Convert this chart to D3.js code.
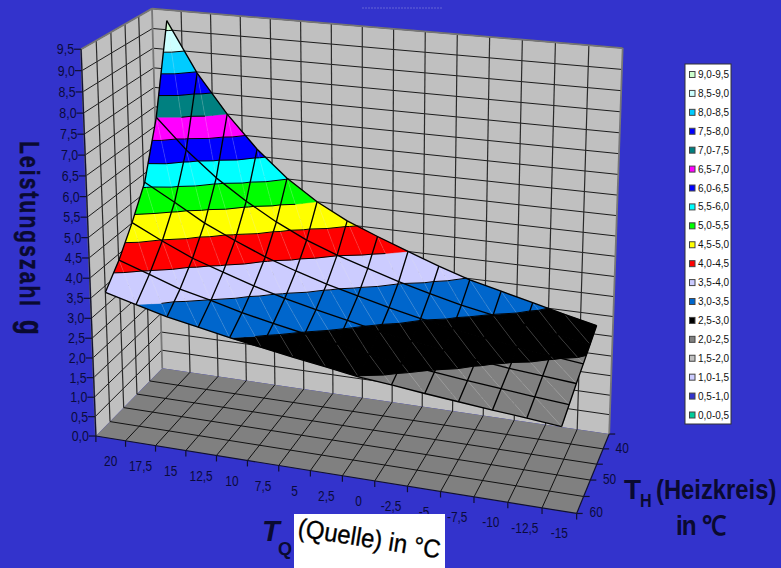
<!DOCTYPE html>
<html>
<head>
<meta charset="utf-8">
<script src="https://cdn.jsdelivr.net/npm/d3@7"></script>
<style>
html,body{margin:0;padding:0;background:#3333cc;overflow:hidden}
svg{display:block}
text{font-family:"Liberation Sans",Arial,sans-serif}
</style>
</head>
<body>
<svg id="chart" width="781" height="568"></svg>
<script>
// Source temperature categories, labelled along the front edge
const tqCategories = ["20","17,5","15","12,5","10","7,5","5","2,5","0","-2,5","-5","-7,5","-10","-12,5","-15"];
// Heating-circuit temperature rows of the surface and the three labelled ones
const thRows = [40,44,48,52,56,60];
const thLabels = ["40","50","60"];
// Performance factor per heating temperature, one value per source temperature
const g40 = [9.23,7.97,7.00,6.18,5.52,5.00,4.60,4.29,4.00,3.72,3.47,3.28,3.09,2.90,2.72];
const g44 = [7.00,6.25,5.62,5.11,4.67,4.30,4.01,3.77,3.53,3.33,3.14,2.99,2.85,2.72,2.58];
const g48 = [5.60,5.18,4.74,4.39,4.07,3.81,3.58,3.38,3.19,3.02,2.88,2.75,2.63,2.53,2.44];
const g52 = [4.85,4.48,4.14,3.89,3.64,3.43,3.25,3.09,2.92,2.79,2.67,2.55,2.45,2.38,2.31];
const g56 = [4.20,3.94,3.67,3.49,3.29,3.13,2.98,2.84,2.69,2.58,2.48,2.39,2.31,2.23,2.16];
const g60 = [3.70,3.50,3.30,3.15,3.00,2.87,2.74,2.62,2.49,2.41,2.32,2.24,2.16,2.09,2.01];
const surfaceRows = [g40,g44,g48,g52,g56,g60];
// Value bands, lowest first, with legend labels and colours
const bandLabels = ["0,0-0,5","0,5-1,0","1,0-1,5","1,5-2,0","2,0-2,5","2,5-3,0","3,0-3,5","3,5-4,0","4,0-4,5","4,5-5,0","5,0-5,5","5,5-6,0","6,0-6,5","6,5-7,0","7,0-7,5","7,5-8,0","8,0-8,5","8,5-9,0","9,0-9,5"];
const bandColors = ["#00cc99","#3333cc","#ccccff","#c0c0c0","#808080","#000000","#0066cc","#ccccff","#ff0000","#ffff00","#00ff00","#00ffff","#0000ff","#ff00ff","#008080","#0000ff","#00ccff","#ccffff","#ccffcc"];
const zTicks = d3.range(0,20).map(d=>d*0.5);

const svg = d3.select("#chart");
const fmt = d=>d.toFixed(1).replace(".",",");

// Scales from data into the unit box of the plot
const uBand = d3.scaleBand().domain(tqCategories).range([0,1]);
const uCenter = c=>uBand(c)+uBand.bandwidth()/2;
const vPoint = d3.scalePoint().domain(thRows).range([1,0]);
const wScale = d3.scaleLinear().domain([0,9.5]).range([0,1]);

// Camera: fit a perspective matrix to where the box sits on the page
const anchors = [
 [0,0,0,96,436],[1,0,0,577,514],[1,1,0,609,434],[0,1,0,162,368],
 [0,0,1,81,49],[0,1,1,152,9],[1,1,1,623,48],
 [8/15,0,0,343,476],[1,0.4,0,590.7,480],[0,0,4.5/9.5,89,258],
 [1,0,2/9.5,578,429]
];
function fitCamera(pts){
  const A=[],b=[];
  pts.forEach(([x,y,z,px,py])=>{
    A.push([x,y,z,1,0,0,0,0,-px*x,-px*y,-px*z]); b.push(px);
    A.push([0,0,0,0,x,y,z,1,-py*x,-py*y,-py*z]); b.push(py);
  });
  const n=11, M=d3.range(n).map(r=>d3.range(n+1).map(c=>
    c<n ? d3.sum(A,row=>row[r]*row[c]) : d3.sum(A,(row,k)=>row[r]*b[k])));
  for(let c=0;c<n;c++){
    let p=c; for(let r=c+1;r<n;r++) if(Math.abs(M[r][c])>Math.abs(M[p][c])) p=r;
    [M[c],M[p]]=[M[p],M[c]];
    for(let r=0;r<n;r++){ if(r===c) continue;
      const f=M[r][c]/M[c][c];
      for(let k=c;k<=n;k++) M[r][k]-=f*M[c][k];
    }
  }
  return M.map((row,i)=>row[n]/row[i]);
}
const cam = fitCamera(anchors);
function project(u,v,w){
  const d=cam[8]*u+cam[9]*v+cam[10]*w+1;
  return [(cam[0]*u+cam[1]*v+cam[2]*w+cam[3])/d,(cam[4]*u+cam[5]*v+cam[6]*w+cam[7])/d];
}
const line3d = pts=>"M"+pts.map(p=>project(...p).map(n=>n.toFixed(2)).join(",")).join("L");
const poly3d = pts=>line3d(pts)+"Z";

// Walls and floor
const uTicks = d3.range(0,16).map(i=>i/15);
const vTicks = d3.range(0,6).map(i=>i/5);
const walls = svg.append("g");
walls.selectAll("path.face").data([
  {d:[[0,0,0],[0,1,0],[0,1,1],[0,0,1]],f:"#c0c0c0"},
  {d:[[0,1,0],[1,1,0],[1,1,1],[0,1,1]],f:"#c0c0c0"},
  {d:[[0,0,0],[1,0,0],[1,1,0],[0,1,0]],f:"#808080"}
]).join("path").attr("class","face").attr("d",d=>poly3d(d.d)).attr("fill",d=>d.f);

const wallLines = [];
zTicks.slice(1).forEach(z=>{
  const w=wScale(z);
  wallLines.push({p:[[0,0,w],[0,1,w]],c:"#1c1c1c",s:1});
  wallLines.push({p:[[0,1,w],[1,1,w]],c:"#1c1c1c",s:1});
});
uTicks.slice(1,-1).forEach(u=>wallLines.push({p:[[u,1,0],[u,1,1]],c:"#2a2a2a",s:1.2}));
vTicks.slice(1,-1).forEach(v=>wallLines.push({p:[[0,v,0],[0,v,1]],c:"#2a2a2a",s:1.2}));
uTicks.slice(1,-1).forEach(u=>wallLines.push({p:[[u,0,0],[u,1,0]],c:"#111",s:1}));
vTicks.slice(1,-1).forEach(v=>wallLines.push({p:[[0,v,0],[1,v,0]],c:"#111",s:1}));
[[[0,1,0],[0,1,1]],[[1,1,0],[1,1,1]],[[0,1,1],[1,1,1]],[[0,0,1],[0,1,1]],[[0,0,0],[0,0,1]]]
  .forEach(p=>wallLines.push({p,c:"#777",s:1.8}));
walls.selectAll("path.rule").data(wallLines).join("path").attr("class","rule")
  .attr("d",d=>line3d(d.p)).attr("fill","none").attr("stroke",d=>d.c).attr("stroke-width",d=>d.s);

// Surface vertices in unit box coordinates
const vertex = (i,j)=>({u:uCenter(tqCategories[i]),v:vPoint(thRows[j]),z:surfaceRows[j][i]});
const lerp=(a,b,z)=>{const t=(z-a.z)/(b.z-a.z);return {u:a.u+t*(b.u-a.u),v:a.v+t*(b.v-a.v),z};};
function clipAbove(poly,z,keepAbove){
  const out=[];
  poly.forEach((p,k)=>{
    const q=poly[(k+1)%poly.length];
    const pin=keepAbove?p.z>=z:p.z<=z, qin=keepAbove?q.z>=z:q.z<=z;
    if(pin) out.push(p);
    if(pin!==qin) out.push(lerp(p,q,z));
  });
  return out;
}
const toBox = p=>[p.u,p.v,wScale(p.z)];
const cells=[], seams=[], levels=[];
for(let j=0;j<thRows.length-1;j++){
  for(let i=0;i<tqCategories.length-1;i++){
    const a=vertex(i,j),b=vertex(i+1,j),c=vertex(i+1,j+1),d=vertex(i,j+1);
    [[a,b,c],[a,c,d]].forEach(tri=>{
      bandColors.forEach((col,k)=>{
        let poly=clipAbove(tri,k*0.5,true);
        if(poly.length) poly=clipAbove(poly,(k+1)*0.5,false);
        if(poly.length>2) cells.push({d:poly3d(poly.map(toBox)),col});
      });
      d3.range(1,19).forEach(k=>{
        const poly=clipAbove(tri,k*0.5,true);
        const on=poly.filter(p=>p.z===k*0.5);
        if(on.length===2) levels.push(line3d(on.map(toBox)));
      });
    });
    seams.push(line3d([a,c].map(toBox)));
  }
}
const surf=svg.append("g");
surf.selectAll("path.band").data(cells).join("path").attr("class","band")
  .attr("d",d=>d.d).attr("fill",d=>d.col).attr("stroke",d=>d.col).attr("stroke-width",0.35);
surf.selectAll("path.seam").data(seams).join("path").attr("class","seam")
  .attr("d",d=>d).attr("fill","none").attr("stroke","#fff").attr("stroke-opacity",0.28).attr("stroke-width",0.6);
surf.selectAll("path.level").data(levels).join("path").attr("class","level")
  .attr("d",d=>d).attr("fill","none").attr("stroke","#000").attr("stroke-width",1);
// Mesh lines along both directions
const meshRows = thRows.map((_,j)=>tqCategories.map((_,i)=>toBox(vertex(i,j))));
const meshCols = tqCategories.map((_,i)=>thRows.map((_,j)=>toBox(vertex(i,j))));
surf.selectAll("path.mesh").data(meshRows.concat(meshCols)).join("path").attr("class","mesh")
  .attr("d",d=>line3d(d)).attr("fill","none").attr("stroke","#000").attr("stroke-width",1.35).attr("stroke-linejoin","round");

// Axes: edges, tick marks and labels
const axisInk="#0a0a3c";
const ax=svg.append("g");
const axisSegs=[
  {a:project(0,0,0),b:project(1,0,0)},{a:project(1,0,0),b:project(1,1,0)},{a:project(0,0,0),b:project(0,0,1)}
];
uTicks.forEach(u=>{const a=project(u,0,0);axisSegs.push({a,b:[a[0],a[1]+6]});});
vTicks.forEach(v=>{const a=project(1,v,0);axisSegs.push({a,b:[a[0]+6,a[1]]});});
zTicks.forEach(z=>{const a=project(0,0,wScale(z));axisSegs.push({a,b:[a[0]-7,a[1]]});});
ax.selectAll("line").data(axisSegs).join("line")
  .attr("x1",d=>d.a[0]).attr("y1",d=>d.a[1]).attr("x2",d=>d.b[0]).attr("y2",d=>d.b[1])
  .attr("stroke","#101030").attr("stroke-width",1.2);
const labelStyle=s=>s.attr("fill",axisInk).attr("font-size",14).attr("dominant-baseline","middle");
ax.selectAll("text.z").data(zTicks).join("text").attr("class","z").call(labelStyle)
  .attr("text-anchor","end").attr("font-size",15.5)
  .attr("transform",d=>{const p=project(0,0,wScale(d));return `translate(${p[0]-7},${p[1]+1}) scale(0.8,1)`;}).text(fmt);
ax.selectAll("text.tq").data(tqCategories).join("text").attr("class","tq").call(labelStyle)
  .attr("text-anchor","middle")
  .attr("transform",d=>{const p=project(uCenter(d),0,0);return `translate(${p[0]},${p[1]+24}) scale(0.85,1)`;}).text(d=>d);
const thCell=d3.scalePoint().domain(thLabels).range([0.9,0.1]);
ax.selectAll("text.th").data(thLabels).join("text").attr("class","th").call(labelStyle)
  .attr("text-anchor","middle")
  .attr("transform",d=>{const p=project(1,thCell(d),0);return `translate(${p[0]+16},${p[1]+8}) scale(0.85,1)`;}).text(d=>d);

// Axis titles
const titleInk="#0a0a30";
const yt=svg.append("g").attr("fill",titleInk).attr("stroke",titleInk).attr("stroke-width",0.4).attr("font-weight","bold");
yt.append("text").attr("transform","translate(20,141) rotate(90) scale(1,1.35)")
  .attr("font-size",21).attr("letter-spacing",2.1).text("Leistungszahl");
yt.append("text").attr("transform","translate(20,320) rotate(90) scale(1,1.35)")
  .attr("font-size",24).text("g");
const th=svg.append("g").attr("fill",titleInk).attr("font-weight","bold");
th.append("text").attr("transform","translate(624,499) scale(1,1)").attr("font-size",28).text("T");
th.append("text").attr("transform","translate(640,507) scale(0.85,1)").attr("font-size",19).text("H");
th.append("text").attr("transform","translate(656,499) scale(0.85,1)").attr("font-size",28).text("(Heizkreis)");
th.append("text").attr("transform","translate(676,535) scale(0.9,1)").attr("font-size",27).attr("letter-spacing",-1).text("in ℃");
svg.append("text").attr("x",262).attr("y",541).attr("font-size",29).attr("font-weight","bold").attr("font-style","italic").attr("fill",titleInk).text("T");
svg.append("text").attr("x",278).attr("y",555).attr("font-size",18).attr("font-weight","bold").attr("fill",titleInk).text("Q");

// Pasted caption on its white panel
svg.append("rect").attr("x",294).attr("y",514).attr("width",151).attr("height",54).attr("fill","#fff");
svg.append("text").attr("transform","translate(297,536) rotate(9) scale(1.04,1.12)")
  .attr("font-size",23).attr("fill","#000").attr("stroke","#000").attr("stroke-width",0.3).text("(Quelle) in °C");

// Faint rule above the plot
svg.append("line").attr("x1",362).attr("x2",442).attr("y1",8).attr("y2",8)
  .attr("stroke","#8f8fe0").attr("stroke-opacity",0.55).attr("stroke-dasharray","2 1");

// Legend, highest band first
const legendRow=d3.scalePoint().domain(d3.range(19)).range([74.5,415]);
const leg=svg.append("g");
leg.append("rect").attr("x",685).attr("y",64).attr("width",46).attr("height",360)
  .attr("fill","#fff").attr("stroke","#333").attr("stroke-width",1);
const legendItems=bandLabels.map((label,k)=>({label,col:bandColors[k]})).reverse();
const li=leg.selectAll("g").data(legendItems).join("g").attr("transform",(d,k)=>`translate(0,${legendRow(k)})`);
li.append("rect").attr("x",689.5).attr("y",-3).attr("width",5.5).attr("height",6).attr("fill",d=>d.col).attr("stroke","#444").attr("stroke-width",1);
li.append("text").attr("transform","translate(698,0.5) scale(0.87,1)").attr("dominant-baseline","middle").attr("font-size",11.5).attr("fill","#111").text(d=>d.label);
</script>
</body>
</html>
